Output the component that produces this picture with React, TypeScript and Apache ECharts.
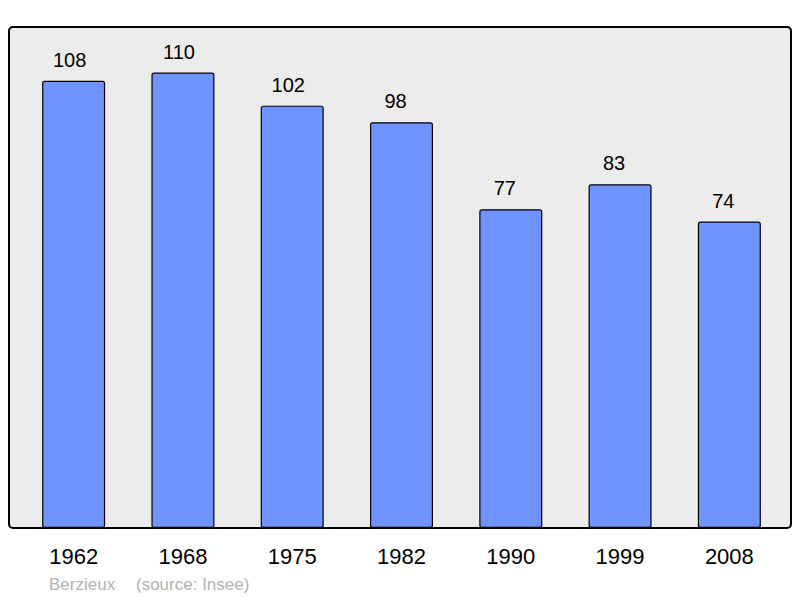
import React, { useEffect, useRef } from "react";
import * as echarts from "echarts";

const years = ["1962", "1968", "1975", "1982", "1990", "1999", "2008"];
const population = [108, 110, 102, 98, 77, 83, 74];
const placeName = "Berzieux";
const sourceText = "(source: Insee)";

export default function App() {
  const ref = useRef<HTMLDivElement>(null);
  useEffect(() => {
    if (!ref.current) return;
    const chart = echarts.init(ref.current, undefined, { renderer: "svg" });
    const font = "'Liberation Sans', Arial, sans-serif";
    chart.setOption({
      animation: false,
      backgroundColor: "#ffffff",
      textStyle: { fontFamily: font },
      grid: { left: 19, top: 27, width: 765, height: 501 },
      graphic: [
        {
          type: "rect",
          z: -10,
          shape: { x: 9, y: 27, width: 782, height: 501, r: 4 },
          style: { fill: "#ececec", stroke: "#000000", lineWidth: 2 },
          silent: true,
        },
        {
          type: "text",
          x: 49,
          y: 584,
          style: {
            text: placeName,
            fill: "#b3b3b3",
            font: `17px ${font}`,
            verticalAlign: "middle",
          },
        },
        {
          type: "text",
          x: 136,
          y: 584,
          style: {
            text: sourceText,
            fill: "#b3b3b3",
            font: `17px ${font}`,
            verticalAlign: "middle",
          },
        },
      ],
      xAxis: {
        type: "category",
        data: years,
        axisLine: { show: false },
        axisTick: { show: false },
        axisLabel: { fontSize: 22, color: "#000", margin: 17, fontFamily: font },
      },
      yAxis: {
        type: "value",
        min: 0,
        max: 121,
        show: false,
        splitLine: { show: false },
      },
      series: [
        {
          type: "bar",
          data: population.map((v) => ({
            value: v,
            label: { offset: [v >= 100 ? -4 : -6, 0] },
          })),
          barWidth: 63,
          itemStyle: {
            color: "#7094ff",
            borderColor: "#000000",
            borderWidth: 1.2,
            borderRadius: 2,
          },
          label: {
            show: true,
            position: "top",
            distance: 11,
            fontSize: 20,
            color: "#000",
            fontFamily: font,
          },
        },
      ],
    });
    return () => chart.dispose();
  }, []);
  return (
    <div
      ref={ref}
      style={{ position: "fixed", left: 0, top: 0, width: 800, height: 598 }}
    />
  );
}
